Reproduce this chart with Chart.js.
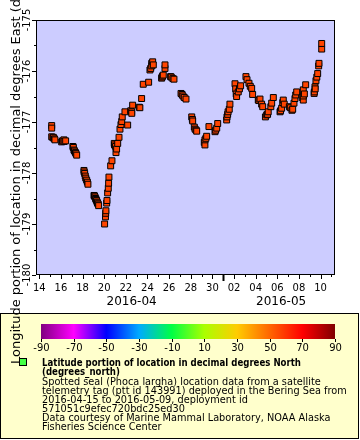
<!DOCTYPE html>
<html lang="en">
<head>
<meta charset="UTF-8">
<title>Spotted seal track</title>
<script src="https://cdn.jsdelivr.net/npm/chart.js"></script>
<style>
  * { margin: 0; padding: 0; }
  body { background: #fff; width: 360px; height: 440px; overflow: hidden; }
  canvas { display: block; }
</style>
</head>
<body>
<canvas id="trackChart" width="360" height="440"></canvas>
<script>
// time as day of April 2016 (May 1 = 31), longitude in degrees East
const dayApr = [
  15.15, 15.15, 15.15, 15.27, 15.30, 15.40, 15.45, 16.07, 16.15, 16.28, 16.30, 16.44,
  17.11, 17.15, 17.21, 17.25, 17.35, 17.40, 17.46, 18.13, 18.15, 18.20, 18.25, 18.30,
  18.38, 18.45, 18.50, 19.06, 19.10, 19.15, 19.21, 19.25, 19.30, 19.35, 19.38, 19.45,
  19.49, 20.04, 20.12, 20.14, 20.16, 20.23, 20.26, 20.32, 20.38, 20.41, 20.44, 20.60,
  20.72, 20.93, 20.95, 21.05, 21.09, 21.15, 21.25, 21.37, 21.46, 21.55, 21.62, 21.67,
  21.92, 22.17, 22.45, 22.54, 22.55, 22.63, 23.24, 23.30, 23.46, 23.61, 24.11, 24.23,
  24.30, 24.39, 24.40, 24.48, 24.54, 25.31, 25.35, 25.40, 25.46, 25.62, 25.62, 26.14,
  26.20, 26.35, 26.45, 27.10, 27.20, 27.28, 27.40, 27.56, 28.09, 28.15, 28.18, 28.33,
  28.40, 28.50, 28.55, 29.25, 29.31, 29.31, 29.40, 29.47, 29.68, 30.24, 30.30, 30.40,
  30.49, 31.32, 31.35, 31.41, 31.45, 31.56, 31.62, 32.09, 32.15, 32.20, 32.24, 32.39,
  32.50, 32.61, 33.10, 33.20, 33.38, 33.50, 33.63, 33.72, 34.24, 34.30, 34.40, 34.55,
  34.65, 34.90, 35.02, 35.10, 35.16, 35.40, 35.48, 35.63, 36.25, 36.30, 36.40, 36.50,
  36.55, 36.64, 37.11, 37.20, 37.35, 37.42, 37.54, 37.63, 37.70, 37.79, 38.30, 38.40,
  38.40, 38.40, 38.50, 38.62, 39.40, 39.42, 39.48, 39.50, 39.57, 39.65, 39.73, 39.82,
  39.85, 40.10, 40.10
];
const lon = [
  -177.07, -177.12, -177.29, -177.31, -177.30, -177.33, -177.35, -177.39, -177.37, -177.35, -177.38, -177.37,
  -177.48, -177.50, -177.55, -177.57, -177.60, -177.62, -177.65, -177.95, -177.98, -178.01, -178.06, -178.10,
  -178.14, -178.18, -178.22, -178.44, -178.45, -178.47, -178.50, -178.52, -178.54, -178.57, -178.59, -178.61,
  -178.64, -179.00, -178.86, -178.79, -178.74, -178.59, -178.54, -178.39, -178.30, -178.20, -178.08, -177.86,
  -177.76, -177.42, -177.45, -177.48, -177.60, -177.53, -177.42, -177.30, -177.14, -177.05, -176.99, -176.90,
  -176.80, -177.06, -176.78, -176.80, -176.83, -176.67, -176.71, -176.72, -176.54, -176.26, -176.22, -175.98,
  -175.95, -175.85, -175.90, -175.82, -175.88, -176.14, -176.12, -176.10, -176.08, -175.95, -175.88, -176.11,
  -176.12, -176.15, -176.16, -176.44, -176.46, -176.49, -176.52, -176.55, -176.90, -176.95, -176.98, -177.10,
  -177.14, -177.16, -177.18, -177.40, -177.45, -177.35, -177.32, -177.28, -177.09, -177.19, -177.16, -177.12,
  -177.03, -176.96, -176.90, -176.85, -176.80, -176.75, -176.65, -176.25, -176.35, -176.45, -176.50, -176.41,
  -176.35, -176.29, -176.11, -176.17, -176.24, -176.30, -176.34, -176.46, -176.57, -176.58, -176.55, -176.65,
  -176.70, -176.90, -176.86, -176.85, -176.80, -176.70, -176.63, -176.52, -176.80, -176.78, -176.73, -176.62,
  -176.57, -176.65, -176.70, -176.72, -176.77, -176.75, -176.63, -176.54, -176.47, -176.41, -176.52, -176.57,
  -176.49, -176.37, -176.45, -176.27, -176.44, -176.41, -176.31, -176.35, -176.19, -176.12, -176.05, -175.90,
  -175.85, -175.57, -175.46
];

const xTickDays = [14, 16, 18, 20, 22, 24, 26, 28, 30, 32, 34, 36, 38, 40];
const xTickLabels = ['14', '16', '18', '20', '22', '24', '26', '28', '30', '02', '04', '06', '08', '10'];
const monthLabels = ['2016-04', '2016-05'];
const monthStartDays = [1, 31];
const yTicks = [-180, -179, -178, -177, -176, -175];
const colorbarTicks = [-90, -70, -50, -30, -10, 10, 30, 50, 70, 90];

const yTitle = 'Longitude portion of location in decimal degrees East (degrees_east)';
const legendBold = ['Latitude portion of location in decimal degrees North', '(degrees_north)'];
const legendText = [
  'Spotted seal (Phoca largha) location data from a satellite',
  'telemetry tag (ptt id 143991) deployed in the Bering Sea from',
  '2016-04-15 to 2016-05-09, deployment id',
  '571051c9efec720bdc25ed30',
  'Data courtesy of Marine Mammal Laboratory, NOAA Alaska',
  'Fisheries Science Center'
];

const FONT = "'DejaVu Sans', sans-serif";

function line(ctx, x1, y1, x2, y2) {
  ctx.beginPath();
  ctx.moveTo(x1, y1);
  ctx.lineTo(x2, y2);
  ctx.stroke();
}

// draw text squeezed horizontally by sx, starting at x
function squeezed(ctx, text, x, y, sx) {
  ctx.save();
  ctx.translate(x, y);
  ctx.scale(sx, 1);
  ctx.fillText(text, 0, 0);
  ctx.restore();
}

const decor = {
  id: 'decor',
  beforeDraw(chart) {
    const { ctx, chartArea: a } = chart;
    ctx.save();
    ctx.fillStyle = '#ffffff';
    ctx.fillRect(0, 0, chart.width, chart.height);
    ctx.fillStyle = '#ccccff';
    ctx.fillRect(a.left, a.top, a.right - a.left, a.bottom - a.top);
    ctx.restore();
  },
  afterDraw(chart) {
    const { ctx, chartArea: a } = chart;
    const xs = chart.scales.x, ys = chart.scales.y;
    ctx.save();
    ctx.strokeStyle = '#000';
    ctx.fillStyle = '#000';
    ctx.lineWidth = 1;

    // frame
    ctx.strokeRect(a.left + 0.5, a.top + 0.5, a.right - a.left - 1, a.bottom - a.top - 1);

    // x ticks (one per day)
    for (let d = Math.ceil(xs.min); d <= xs.max; d++) {
      const px = Math.round(xs.getPixelForValue(d)) + 0.5;
      let len = d % 2 === 0 ? 4 : 2;
      ctx.lineWidth = 1;
      if (d === monthStartDays[1]) { len = 6; ctx.lineWidth = 2; }
      line(ctx, px, a.bottom, px, a.bottom + len);
    }
    ctx.lineWidth = 1;
    ctx.font = '10px ' + FONT;
    ctx.textAlign = 'center';
    ctx.textBaseline = 'middle';
    xTickDays.forEach((d, i) => {
      ctx.fillText(xTickLabels[i], xs.getPixelForValue(d), a.bottom + 13);
    });
    ctx.font = '12px ' + FONT;
    monthLabels.forEach((m, i) => {
      const lo = Math.max(xs.min, monthStartDays[i]);
      const hi = i + 1 < monthStartDays.length ? monthStartDays[i + 1] : xs.max;
      ctx.fillText(m, xs.getPixelForValue((lo + hi) / 2) + 2, a.bottom + 27);
    });

    // y ticks
    for (let v = ys.min; v <= ys.max + 1e-9; v += 0.5) {
      const py = Math.round(ys.getPixelForValue(v)) + 0.5;
      const len = Math.abs(v - Math.round(v)) < 1e-9 ? 4 : 2;
      line(ctx, a.left - len, py, a.left, py);
    }
    ctx.font = '10px ' + FONT;
    yTicks.forEach(v => {
      ctx.save();
      ctx.translate(a.left - 9, ys.getPixelForValue(v));
      ctx.rotate(-Math.PI / 2);
      ctx.fillText(String(v), 0, 0);
      ctx.restore();
    });

    // legend box
    ctx.fillStyle = '#ffffcc';
    ctx.fillRect(0, 313, 359, 126);
    ctx.strokeRect(0.5, 313.5, 358, 125);

    // colour bar
    const cb = { left: 41, right: 335, top: 324, bottom: 339 };
    const grad = ctx.createLinearGradient(cb.left, 0, cb.right, 0);
    const stops = ['#800080', '#ff00ff', '#0000ff', '#00aaff', '#00ff44', '#aaff00', '#ffcc00', '#ff6600', '#ff0000', '#800000'];
    stops.forEach((c, i) => grad.addColorStop(i / (stops.length - 1), c));
    ctx.fillStyle = grad;
    ctx.fillRect(cb.left, cb.top, cb.right - cb.left, cb.bottom - cb.top);
    ctx.fillStyle = '#000';
    ctx.font = '10px ' + FONT;
    colorbarTicks.forEach((t, i) => {
      const px = Math.round(cb.left + (cb.right - cb.left) * i / (colorbarTicks.length - 1)) + 0.5;
      line(ctx, px, cb.bottom, px, cb.bottom + 3);
      ctx.fillText(String(t), px, cb.bottom + 9);
    });

    // legend marker and text
    ctx.fillStyle = '#44ff44';
    ctx.fillRect(20, 359, 6, 6);
    ctx.strokeRect(19.5, 358.5, 7, 7);
    ctx.fillStyle = '#000';
    ctx.textAlign = 'left';
    ctx.font = 'bold 10px ' + FONT;
    legendBold.forEach((t, i) => squeezed(ctx, t, 42, 363.5 + i * 9, 0.86));
    ctx.font = '10px ' + FONT;
    legendText.forEach((t, i) => squeezed(ctx, t, 42, 382 + i * 9, 0.975));

    // y axis title
    ctx.save();
    ctx.translate(17, 364);
    ctx.rotate(-Math.PI / 2);
    ctx.font = '13px ' + FONT;
    ctx.textAlign = 'left';
    ctx.fillText(yTitle, 0, 0);
    ctx.restore();

    ctx.restore();
  }
};

const points = dayApr.map((d, i) => ({ x: d, y: lon[i] }));

new Chart(document.getElementById('trackChart'), {
  type: 'scatter',
  data: {
    datasets: [{
      data: points,
      pointStyle: 'rect',
      pointRadius: 4.2,
      pointBackgroundColor: '#ff4400',
      pointBorderColor: '#000',
      pointBorderWidth: 1
    }]
  },
  options: {
    responsive: false,
    animation: false,
    devicePixelRatio: 1,
    layout: { autoPadding: false, padding: { left: 36, top: 20, right: 25, bottom: 165 } },
    scales: {
      x: { type: 'linear', min: 13.7, max: 41.33, display: false },
      y: { type: 'linear', min: -180, max: -175, display: false }
    },
    plugins: { legend: { display: false }, tooltip: { enabled: false } }
  },
  plugins: [decor]
});
</script>
</body>
</html>
